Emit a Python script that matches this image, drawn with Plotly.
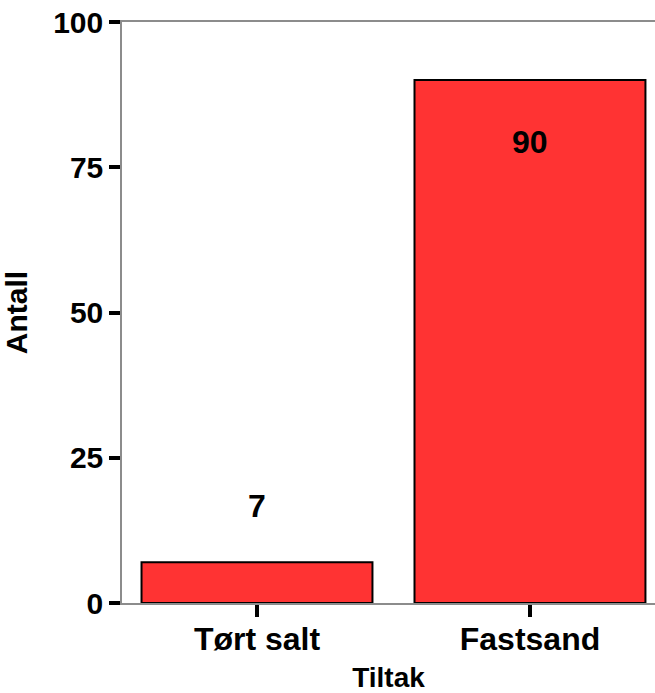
import plotly.graph_objects as go

categories = ["Tørt salt", "Fastsand"]
values = [7, 90]
y_ticks = [0, 25, 50, 75, 100]
x_title = "Tiltak"
y_title = "Antall"

FONT = "Liberation Sans, Arial, sans-serif"

fig = go.Figure()
fig.add_trace(go.Bar(
    x=categories, y=values, width=0.846,
    marker=dict(color="rgb(255,51,51)", line=dict(color="black", width=2)),
    hoverinfo="x+y",
))

# value labels: above short bar, inside tall bar
for c, v in zip(categories, values):
    inside = v > 50
    fig.add_annotation(
        x=c, y=v, xref="x", yref="y", text=str(v), showarrow=False,
        yshift=-62 if inside else 56,
        font=dict(family=FONT, size=32, color="black", weight=700),
    )

fig.update_layout(
    width=655, height=693,
    margin=dict(l=122, r=0, t=22, b=90),
    plot_bgcolor="white", paper_bgcolor="white",
    showlegend=False,
)
fig.update_xaxes(
    range=[-0.4945, 1.458], automargin=False,
    showline=True, linecolor="#8c8c8c", linewidth=1.5, mirror=True,
    ticks="outside", ticklen=12, tickwidth=4, tickcolor="black",
    ticklabelstandoff=-5,
    tickfont=dict(family=FONT, size=32, color="black", weight=700),
    title=dict(text=x_title, font=dict(family=FONT, size=28, color="black", weight=700), standoff=14),
    showgrid=False, zeroline=False,
)
fig.update_yaxes(
    range=[0, 100], tickvals=y_ticks, automargin=False,
    showline=True, linecolor="#8c8c8c", linewidth=1.5, mirror=False,
    ticks="outside", ticklen=11, tickwidth=4, tickcolor="black",
    ticklabeloverflow="allow",
    tickfont=dict(family=FONT, size=30, color="black", weight=700),
    title=dict(text=y_title, font=dict(family=FONT, size=30, color="black", weight=700), standoff=19),
    showgrid=False, zeroline=False,
)

fig.write_html("out.html", config={"displayModeBar": False},
               post_script="document.body.style.margin='0';")
